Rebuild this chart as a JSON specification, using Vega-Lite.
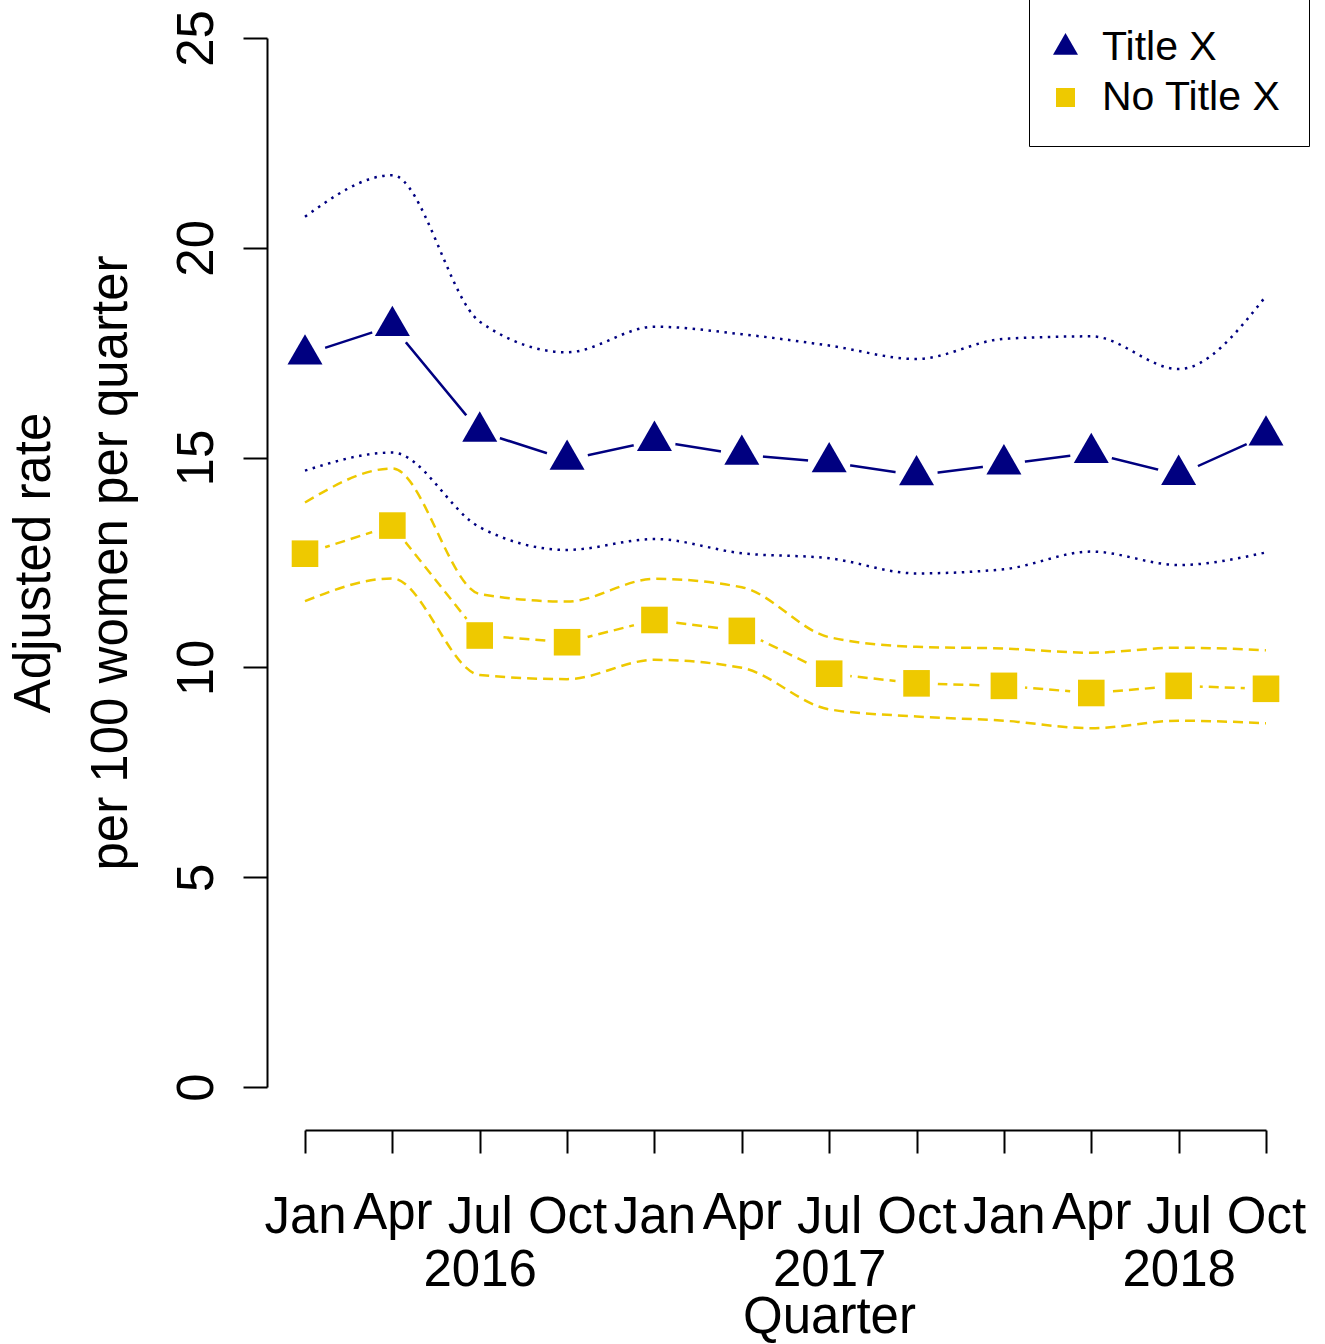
{
  "$schema": "https://vega.github.io/schema/vega-lite/v6.json",
  "width": 961,
  "height": 1049,
  "autosize": {"type": "none"},
  "padding": {"left": 305, "top": 38, "right": 59, "bottom": 257},
  "background": "white",
  "config": {"view": {"stroke": null}, "font": "Liberation Sans"},
  "data": {"values": [
    {"q": 1, "group": "Title X", "est": 17.46, "lo": 14.69, "hi": 20.74},
    {"q": 2, "group": "Title X", "est": 18.14, "lo": 15.12, "hi": 21.73},
    {"q": 3, "group": "Title X", "est": 15.62, "lo": 13.34, "hi": 18.24},
    {"q": 4, "group": "Title X", "est": 14.95, "lo": 12.80, "hi": 17.51},
    {"q": 5, "group": "Title X", "est": 15.40, "lo": 13.06, "hi": 18.12},
    {"q": 6, "group": "Title X", "est": 15.07, "lo": 12.72, "hi": 17.94},
    {"q": 7, "group": "Title X", "est": 14.89, "lo": 12.60, "hi": 17.67},
    {"q": 8, "group": "Title X", "est": 14.58, "lo": 12.24, "hi": 17.35},
    {"q": 9, "group": "Title X", "est": 14.84, "lo": 12.34, "hi": 17.83},
    {"q": 10, "group": "Title X", "est": 15.11, "lo": 12.76, "hi": 17.89},
    {"q": 11, "group": "Title X", "est": 14.59, "lo": 12.44, "hi": 17.11},
    {"q": 12, "group": "Title X", "est": 15.53, "lo": 12.74, "hi": 18.85},
    {"q": 1, "group": "No Title X", "est": 12.71, "lo": 11.58, "hi": 13.93},
    {"q": 2, "group": "No Title X", "est": 13.38, "lo": 12.12, "hi": 14.74},
    {"q": 3, "group": "No Title X", "est": 10.76, "lo": 9.82, "hi": 11.75},
    {"q": 4, "group": "No Title X", "est": 10.60, "lo": 9.72, "hi": 11.57},
    {"q": 5, "group": "No Title X", "est": 11.13, "lo": 10.18, "hi": 12.11},
    {"q": 6, "group": "No Title X", "est": 10.87, "lo": 9.99, "hi": 11.91},
    {"q": 7, "group": "No Title X", "est": 9.85, "lo": 9.00, "hi": 10.72},
    {"q": 8, "group": "No Title X", "est": 9.62, "lo": 8.83, "hi": 10.49},
    {"q": 9, "group": "No Title X", "est": 9.56, "lo": 8.73, "hi": 10.45},
    {"q": 10, "group": "No Title X", "est": 9.39, "lo": 8.55, "hi": 10.35},
    {"q": 11, "group": "No Title X", "est": 9.56, "lo": 8.73, "hi": 10.47},
    {"q": 12, "group": "No Title X", "est": 9.49, "lo": 8.67, "hi": 10.41}
  ]},
  "transform": [{"fold": ["est", "lo", "hi"], "as": ["stat", "value"]}],
  "encoding": {
    "x": {
      "field": "q", "type": "quantitative",
      "scale": {"domain": [1, 12], "nice": false, "zero": false},
      "axis": {
        "orient": "bottom", "offset": 43,
        "values": [1, 2, 3, 4, 5, 6, 7, 8, 9, 10, 11, 12],
        "grid": false,
        "domainColor": "black", "domainWidth": 2,
        "tickColor": "black", "tickWidth": 2, "tickSize": 23,
        "labelExpr": "(datum.value - 1) % 4 == 2 ? [['Jan','Apr','Jul','Oct'][(datum.value - 1) % 4], '' + (2016 + floor((datum.value - 1) / 4))] : ['Jan','Apr','Jul','Oct'][(datum.value - 1) % 4]",
        "labelAngle": 0, "labelAlign": "center", "labelBaseline": "top",
        "labelPadding": {"condition": {"test": "(datum.value - 1) % 4 == 1", "value": 35}, "value": 39},
        "labelFontSize": 51, "labelLineHeight": 53,
        "labelColor": "black", "labelOverlap": false, "labelFlush": false, "labelBound": false,
        "title": "Quarter", "titleFontSize": 51, "titleFontWeight": "normal", "titleColor": "black",
        "titleBaseline": "alphabetic", "titleAlign": "center", "titleX": 524, "titleY": 202
      }
    },
    "y": {
      "field": "value", "type": "quantitative",
      "scale": {"domain": [0, 25], "nice": false, "zero": false},
      "axis": {
        "orient": "left", "offset": 38,
        "values": [0, 5, 10, 15, 20, 25],
        "grid": false,
        "domainColor": "black", "domainWidth": 2,
        "tickColor": "black", "tickWidth": 2, "tickSize": 24,
        "labelAngle": 270, "labelAlign": "center", "labelBaseline": "alphabetic",
        "labelPadding": 31, "labelFontSize": 51, "labelColor": "black",
        "labelOverlap": false, "labelFlush": false, "labelBound": false,
        "title": ["Adjusted rate", "per 100 women per quarter"],
        "titleFontSize": 51, "titleFontWeight": "normal", "titleColor": "black",
        "titleAngle": 270, "titleAlign": "center", "titleBaseline": "alphabetic",
        "titleX": -218, "titleY": 524.5, "titleLineHeight": 77
      }
    }
  },
  "layer": [
    {
      "transform": [{"filter": "datum.group == 'Title X' && datum.stat != 'est'"}],
      "mark": {"type": "line", "color": "#000080", "strokeWidth": 2.5, "strokeDash": [2.5, 5.5], "interpolate": "monotone"},
      "encoding": {"detail": {"field": "stat", "type": "nominal"}}
    },
    {
      "transform": [{"filter": "datum.group == 'No Title X' && datum.stat != 'est'"}],
      "mark": {"type": "line", "color": "#EEC900", "strokeWidth": 2.5, "strokeDash": [10, 6], "interpolate": "monotone"},
      "encoding": {"detail": {"field": "stat", "type": "nominal"}}
    },
    {
      "transform": [{"filter": "datum.group == 'Title X' && datum.stat == 'est'"}],
      "mark": {"type": "line", "color": "#000080", "strokeWidth": 2.5},
      "encoding": {}
    },
    {
      "transform": [{"filter": "datum.group == 'No Title X' && datum.stat == 'est'"}],
      "mark": {"type": "line", "color": "#EEC900", "strokeWidth": 2.5, "strokeDash": [10, 6]},
      "encoding": {}
    },
    {
      "transform": [{"filter": "datum.stat == 'est'"}],
      "mark": {"type": "point", "shape": "circle", "filled": true, "color": "white", "opacity": 1, "size": 1810, "strokeWidth": 0},
      "encoding": {}
    },
    {
      "transform": [{"filter": "datum.stat == 'est'"}],
      "mark": {"type": "point", "filled": true, "opacity": 1, "size": 1225, "strokeWidth": 0},
      "encoding": {
        "color": {
          "field": "group", "type": "nominal",
          "scale": {"domain": ["Title X", "No Title X"], "range": ["#000080", "#EEC900"]},
          "legend": {
            "title": null, "orient": "none", "legendX": 724, "legendY": -39,
            "padding": 28, "strokeColor": "black", "fillColor": "white",
            "labelFontSize": 41, "labelColor": "black", "labelFont": "Liberation Sans",
            "symbolSize": 625, "symbolStrokeWidth": 0, "symbolOffset": -12, "labelOffset": 16, "rowPadding": 8,
            "labelLimit": 400, "cornerRadius": 0,
            "encode": {"legend": {"update": {"strokeWidth": {"value": 2}}}}
          }
        },
        "shape": {
          "field": "group", "type": "nominal",
          "scale": {"domain": ["Title X", "No Title X"], "range": ["M0,-1.155L1,0.577L-1,0.577Z", "M-0.76,-0.76L0.76,-0.76L0.76,0.76L-0.76,0.76Z"]},
          "legend": {
            "title": null, "orient": "none", "legendX": 724, "legendY": -39,
            "padding": 28, "strokeColor": "black", "fillColor": "white",
            "labelFontSize": 41, "labelColor": "black", "labelFont": "Liberation Sans",
            "symbolSize": 625, "symbolStrokeWidth": 0, "symbolOffset": -12, "labelOffset": 16, "rowPadding": 8,
            "labelLimit": 400, "cornerRadius": 0,
            "encode": {"legend": {"update": {"strokeWidth": {"value": 2}}}}
          }
        }
      }
    }
  ]
}
